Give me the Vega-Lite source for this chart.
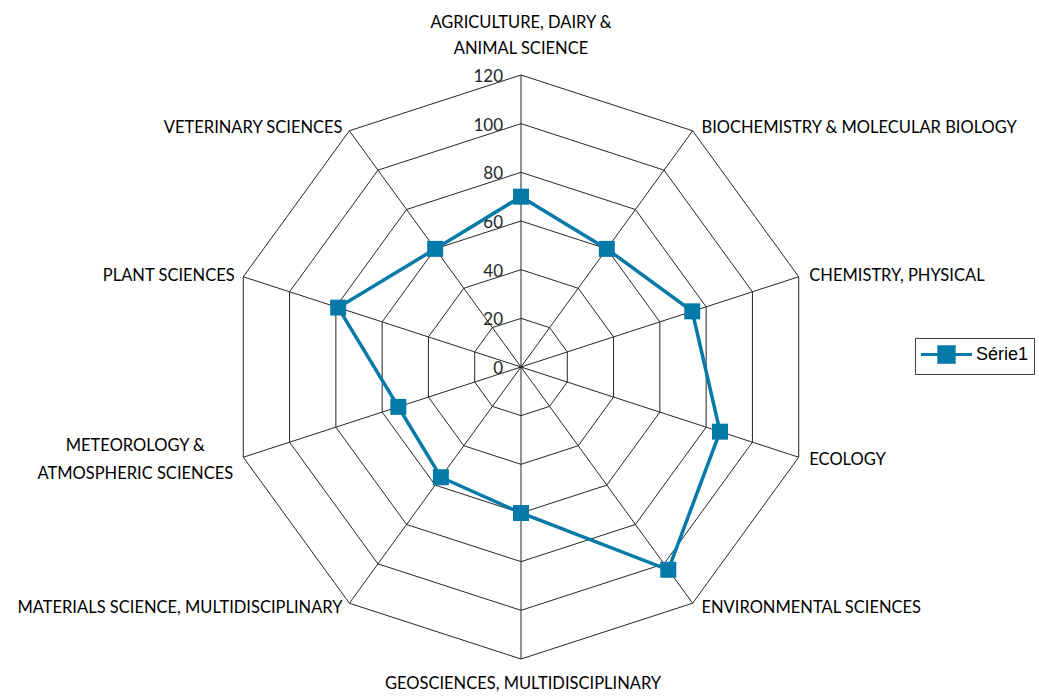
{
  "$schema": "https://vega.github.io/schema/vega-lite/v6.json",
  "width": 584,
  "height": 584,
  "autosize": {"type": "none"},
  "padding": {"left": 229, "top": 75, "right": 226, "bottom": 37},
  "background": "white",
  "config": {"view": {"stroke": null}},
  "datasets": {
    "series": [
      {"category": "AGRICULTURE, DAIRY &\nANIMAL SCIENCE", "i": 0, "value": 70},
      {"category": "BIOCHEMISTRY & MOLECULAR BIOLOGY", "i": 1, "value": 60},
      {"category": "CHEMISTRY, PHYSICAL", "i": 2, "value": 74},
      {"category": "ECOLOGY", "i": 3, "value": 86},
      {"category": "ENVIRONMENTAL SCIENCES", "i": 4, "value": 103},
      {"category": "GEOSCIENCES, MULTIDISCIPLINARY", "i": 5, "value": 60},
      {"category": "MATERIALS SCIENCE, MULTIDISCIPLINARY", "i": 6, "value": 56},
      {"category": "METEOROLOGY &\nATMOSPHERIC SCIENCES", "i": 7, "value": 53},
      {"category": "PLANT SCIENCES", "i": 8, "value": 79},
      {"category": "VETERINARY SCIENCES", "i": 9, "value": 60}
    ],
    "rings": [
      {"i": 0, "levels": [20, 40, 60, 80, 100, 120]},
      {"i": 1, "levels": [20, 40, 60, 80, 100, 120]},
      {"i": 2, "levels": [20, 40, 60, 80, 100, 120]},
      {"i": 3, "levels": [20, 40, 60, 80, 100, 120]},
      {"i": 4, "levels": [20, 40, 60, 80, 100, 120]},
      {"i": 5, "levels": [20, 40, 60, 80, 100, 120]},
      {"i": 6, "levels": [20, 40, 60, 80, 100, 120]},
      {"i": 7, "levels": [20, 40, 60, 80, 100, 120]},
      {"i": 8, "levels": [20, 40, 60, 80, 100, 120]},
      {"i": 9, "levels": [20, 40, 60, 80, 100, 120]}
    ],
    "ticks": [
      {"level": 0}, {"level": 20}, {"level": 40}, {"level": 60},
      {"level": 80}, {"level": 100}, {"level": 120}
    ]
  },
  "layer": [
    {
      "data": {"name": "rings"},
      "transform": [
        {"flatten": ["levels"], "as": ["r"]},
        {"calculate": "datum.r * sin(datum.i * PI / 5)", "as": "x"},
        {"calculate": "datum.r * cos(datum.i * PI / 5)", "as": "y"}
      ],
      "mark": {"type": "line", "interpolate": "linear-closed", "color": "#262626", "strokeWidth": 1},
      "encoding": {
        "x": {"field": "x", "type": "quantitative", "scale": {"domain": [-120, 120], "nice": false, "zero": false}, "axis": null},
        "y": {"field": "y", "type": "quantitative", "scale": {"domain": [-120, 120], "nice": false, "zero": false}, "axis": null},
        "detail": {"field": "r", "type": "nominal"},
        "order": {"field": "i", "type": "quantitative"}
      }
    },
    {
      "data": {"name": "series"},
      "transform": [
        {"calculate": "120 * sin(datum.i * PI / 5)", "as": "ox"},
        {"calculate": "120 * cos(datum.i * PI / 5)", "as": "oy"}
      ],
      "mark": {"type": "rule", "color": "#262626", "strokeWidth": 1},
      "encoding": {
        "x": {"field": "ox", "type": "quantitative"},
        "y": {"field": "oy", "type": "quantitative"},
        "x2": {"datum": 0},
        "y2": {"datum": 0}
      }
    },
    {
      "data": {"name": "ticks"},
      "mark": {"type": "text", "align": "right", "baseline": "middle", "dx": -18, "dy": 2, "font": "Lato", "fontSize": 17, "color": "#262626"},
      "encoding": {
        "x": {"datum": 0},
        "y": {"field": "level", "type": "quantitative"},
        "text": {"field": "level", "type": "quantitative"}
      }
    },
    {
      "data": {"name": "series"},
      "transform": [
        {"calculate": "datum.value * sin(datum.i * PI / 5)", "as": "x"},
        {"calculate": "datum.value * cos(datum.i * PI / 5)", "as": "y"}
      ],
      "mark": {"type": "line", "interpolate": "linear-closed", "color": "#0579A8", "strokeWidth": 3.5},
      "encoding": {
        "x": {"field": "x", "type": "quantitative"},
        "y": {"field": "y", "type": "quantitative"},
        "order": {"field": "i", "type": "quantitative"}
      }
    },
    {
      "data": {"name": "series"},
      "transform": [
        {"calculate": "datum.value * sin(datum.i * PI / 5)", "as": "x"},
        {"calculate": "datum.value * cos(datum.i * PI / 5)", "as": "y"}
      ],
      "mark": {"type": "point", "shape": "square", "filled": true, "size": 256, "opacity": 1},
      "encoding": {
        "x": {"field": "x", "type": "quantitative"},
        "y": {"field": "y", "type": "quantitative"},
        "color": {
          "datum": "Série1",
          "type": "nominal",
          "scale": {"range": ["#0579A8"]},
          "legend": {
            "title": null,
            "orient": "none",
            "legendX": 686,
            "legendY": 263,
            "symbolType": "M-2.55,0H2.55M-0.77,-0.77H0.77V0.77H-0.77Z",
            "symbolSize": 400,
            "symbolStrokeWidth": 3,
            "symbolStrokeColor": "#0579A8",
            "symbolFillColor": "#0579A8",
            "symbolOffset": 15,
            "labelOffset": 18,
            "labelFont": "Liberation Sans",
            "labelFontSize": 18,
            "labelColor": "#000000",
            "strokeColor": "#404040",
            "fillColor": "white",
            "padding": 5
          }
        }
      }
    },
    {
      "data": {"name": "series"},
      "transform": [
        {"filter": "datum.i >= 1 && datum.i <= 4"},
        {"calculate": "122 * sin(datum.i * PI / 5)", "as": "lx"},
        {"calculate": "122 * cos(datum.i * PI / 5)", "as": "ly"}
      ],
      "mark": {"type": "text", "align": "left", "baseline": "middle", "dx": 6, "dy": 1, "font": "Lato", "fontSize": 16.5, "color": "#000000"},
      "encoding": {
        "x": {"field": "lx", "type": "quantitative"},
        "y": {"field": "ly", "type": "quantitative"},
        "text": {"field": "category"}
      }
    },
    {
      "data": {"name": "series"},
      "transform": [
        {"filter": "datum.i == 6 || datum.i == 8 || datum.i == 9"},
        {"calculate": "122 * sin(datum.i * PI / 5)", "as": "lx"},
        {"calculate": "122 * cos(datum.i * PI / 5)", "as": "ly"}
      ],
      "mark": {"type": "text", "align": "right", "baseline": "middle", "dx": -4, "dy": 1, "font": "Lato", "fontSize": 16.5, "color": "#000000"},
      "encoding": {
        "x": {"field": "lx", "type": "quantitative"},
        "y": {"field": "ly", "type": "quantitative"},
        "text": {"field": "category"}
      }
    },
    {
      "data": {"name": "series"},
      "transform": [
        {"filter": "datum.i == 0"},
        {"calculate": "120 * sin(datum.i * PI / 5)", "as": "lx"},
        {"calculate": "120 * cos(datum.i * PI / 5)", "as": "ly"}
      ],
      "mark": {"type": "text", "align": "center", "baseline": "middle", "dx": 0, "dy": -52, "lineHeight": 26, "lineBreak": "\n", "font": "Lato", "fontSize": 16.5, "color": "#000000"},
      "encoding": {
        "x": {"field": "lx", "type": "quantitative"},
        "y": {"field": "ly", "type": "quantitative"},
        "text": {"field": "category"}
      }
    },
    {
      "data": {"name": "series"},
      "transform": [
        {"filter": "datum.i == 5"},
        {"calculate": "120 * sin(datum.i * PI / 5)", "as": "lx"},
        {"calculate": "120 * cos(datum.i * PI / 5)", "as": "ly"}
      ],
      "mark": {"type": "text", "align": "center", "baseline": "middle", "dx": 2, "dy": 25, "font": "Lato", "fontSize": 16.5, "color": "#000000"},
      "encoding": {
        "x": {"field": "lx", "type": "quantitative"},
        "y": {"field": "ly", "type": "quantitative"},
        "text": {"field": "category"}
      }
    },
    {
      "data": {"name": "series"},
      "transform": [
        {"filter": "datum.i == 7"},
        {"calculate": "120 * sin(datum.i * PI / 5)", "as": "lx"},
        {"calculate": "120 * cos(datum.i * PI / 5)", "as": "ly"}
      ],
      "mark": {"type": "text", "align": "center", "baseline": "middle", "dx": -108, "dy": -11, "lineHeight": 28, "lineBreak": "\n", "font": "Lato", "fontSize": 16.5, "color": "#000000"},
      "encoding": {
        "x": {"field": "lx", "type": "quantitative"},
        "y": {"field": "ly", "type": "quantitative"},
        "text": {"field": "category"}
      }
    }
  ]
}
